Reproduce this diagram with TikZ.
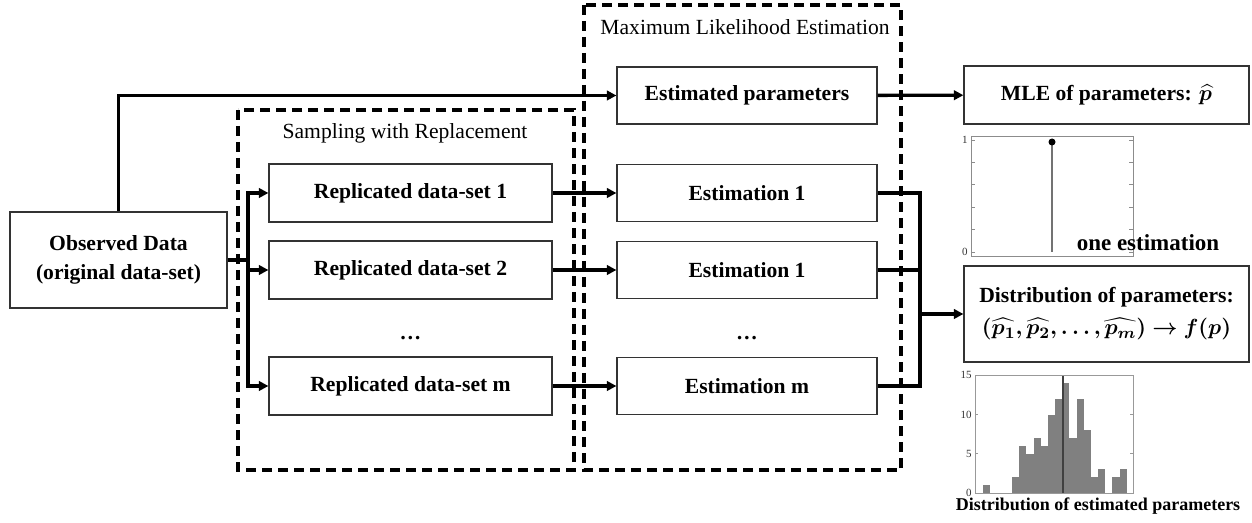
\documentclass[tikz,border=0pt]{standalone}
\usepackage{amsmath}
\usepackage{bm}
\usepackage{fontspec}
\setmainfont{Liberation Serif}
\usepackage{tikz}
\usetikzlibrary{arrows.meta}

\tikzset{
  box/.style={draw=black!80, line width=0.6pt, inner sep=0pt, align=center,
    font=\fontsize{10.8}{14.5}\selectfont\bfseries},
  repbox/.style={box, minimum width=141.5pt, minimum height=29pt},
  estbox/.style={box, minimum width=130pt, minimum height=28.5pt},
  outbox/.style={box, minimum width=142.5pt},
  conn/.style={line width=1.7pt},
  arr/.style={conn, -{Triangle[length=4.8pt,width=4.8pt]}},
  group/.style={line width=1.6pt, dash pattern=on 5pt off 3pt},
  ticklbl/.style={font=\fontsize{5.5}{6}\selectfont, inner sep=1pt, text=black!80},
}

\begin{document}
\begin{tikzpicture}[x=0.5pt,y=-0.5pt]
\useasboundingbox (0,0) rectangle (1252,523);

\draw[group] (238,110) rectangle (574,470);
\draw[group] (584,5) rectangle (901,470);
\node[font=\fontsize{10.8}{13}\selectfont] (samplbl) at (405,133) {Sampling with Replacement};
\node[font=\fontsize{10.8}{13}\selectfont] (mlelbl) at (745,27) {Maximum Likelihood Estimation};

\node[box, minimum width=108.5pt, minimum height=48pt] (obs) at (118.5,260) {Observed Data\\(original data-set)};

\node[repbox] (rep1) at (410.5,193) {Replicated data-set 1};
\node[repbox] (rep2) at (410.5,270) {Replicated data-set 2};
\node[repbox] (repm) at (410.5,386) {Replicated data-set m};
\node[font=\fontsize{10.8}{13}\selectfont\bfseries] (repdots) at (410.5,338) {…};

\node[estbox] (estp) at (747,95.5) {Estimated parameters};
\node[estbox] (est1) at (747,193) {Estimation 1};
\node[estbox] (est2) at (747,270) {Estimation 1};
\node[estbox] (estm) at (747,386) {Estimation m};
\node[font=\fontsize{10.8}{13}\selectfont\bfseries] (estdots) at (747,338) {…};

\node[outbox, minimum height=29pt] (mle) at (1106.5,95) {MLE of parameters: $\bm{\widehat{p}}$};
\node[outbox, minimum height=48pt] (dist) at (1106.5,314)
  {Distribution of parameters:\\[1.5pt]$\boldsymbol{(\widehat{p_1},\widehat{p_2},\ldots,\widehat{p_m})\rightarrow f(p)}$};

\coordinate (split) at (248,260);
\coordinate (merge) at (920,314);

\draw[conn] (obs.east |- split) -- (split);
\draw[arr] (split) |- (rep1.west);
\draw[arr] (split) -- (split |- rep2.west) -- (rep2.west);
\draw[arr] (split) |- (repm.west);
\draw[arr] (obs.north) |- (estp.west);

\draw[arr] (rep1) -- (est1);
\draw[arr] (rep2) -- (est2);
\draw[arr] (repm) -- (estm);

\draw[conn] (est1.east) -| (merge);
\draw[conn] (est2.east) -| (merge);
\draw[conn] (estm.east) -| (merge);
\draw[arr] (merge) -- (dist.west);
\draw[arr] (estp) -- (mle);

\draw[black!45, line width=0.5pt] (971,137) rectangle (1133,257);
\foreach \v in {0,0.2,...,1.0}
  \draw[black!45, line width=0.4pt] (971,252-112*\v) -- ++(4,0) (1133,252-112*\v) -- ++(-4,0);
\node[ticklbl, anchor=east] (one) at (970,140) {1};
\node[ticklbl, anchor=east] (zero) at (970,252) {0};
\draw[black!55, line width=1pt] (1052,142) -- (1052,252);
\fill (1052,142) circle (3.5);
\node[font=\fontsize{11.5}{13}\selectfont\bfseries] (onelbl) at (1148,243) {one estimation};

\foreach \h [count=\i from 0] in {1,0,0,0,2,6,5,7,6,10,12,14,7,12,8,2,3,0,2,3}
  \fill[black!50] (983.3+7.17*\i,493) rectangle ++(7.17,-7.85*\h);
\draw[black!75, line width=0.8pt] (1062.7,493) -- (1062.7,376);
\draw[black!40, line width=0.5pt] (975,376) rectangle (1133,493);
\foreach \v in {0,5,10,15}{
  \draw[black!40, line width=0.4pt] (975,493-7.85*\v) -- ++(3,0) (1133,493-7.85*\v) -- ++(-3,0);
  \node[ticklbl, anchor=east] at (974,493-7.85*\v) {\v};
}
\node[font=\fontsize{9}{10}\selectfont\bfseries] (histlbl) at (1098,506) {Distribution of estimated parameters};
\end{tikzpicture}
\end{document}
